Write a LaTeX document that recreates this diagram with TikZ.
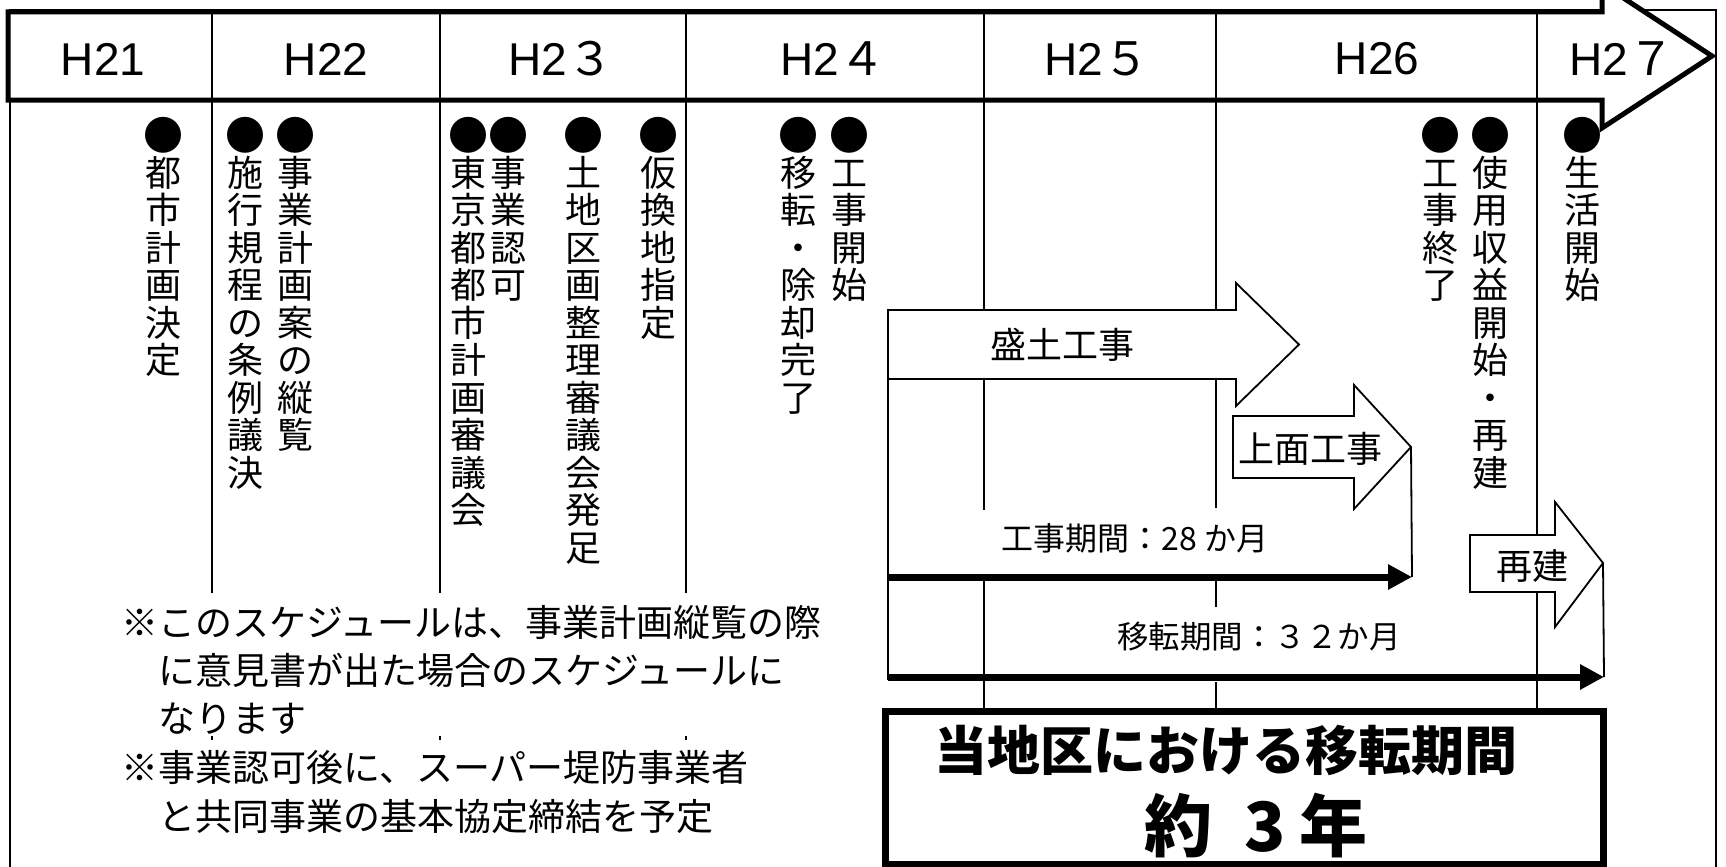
\documentclass[tikz,border=0pt]{standalone}
\usepackage{fontspec}
\setmainfont{Liberation Sans}
\newfontfamily\cjk{Noto Sans CJK JP}
\usetikzlibrary{arrows.meta}
\newcommand\vcolumn[3]{%
  \node[vdot] (#1d) at (#2,135) {●};
  \foreach \ch [count=\k from 1] in {#3}{%
    \node[vch] (#1\k) at (#2,135+37.5*\k) {\ch};}%
}
\begin{document}
\begin{tikzpicture}[x=1pt,y=-1pt,
  frame/.style={line width=2pt},
  band/.style={line width=5pt, line join=miter, fill=white},
  divider/.style={line width=1.8pt},
  blockarrow/.style={line width=1.8pt, fill=white, line join=miter},
  bracket/.style={line width=1.8pt},
  period/.style={line width=7pt, -{Triangle[length=24pt,width=24pt]}},
  vch/.style={font=\cjk\fontsize{36}{36}\selectfont, inner sep=0pt, text height=31.7pt, text depth=4.3pt},
  vdot/.style={font=\cjk\fontsize{40}{40}\selectfont, inner sep=0pt, text height=35.2pt, text depth=4.8pt},
  year/.style={font=\fontsize{46}{46}\selectfont, inner sep=0pt},
  arrowtext/.style={font=\cjk\fontsize{36}{36}\selectfont, inner sep=0pt},
  periodtext/.style={font=\cjk\fontsize{32}{32}\selectfont, inner sep=0pt},
  note/.style={font=\cjk\fontsize{37}{37}\selectfont, inner sep=0pt, anchor=west, text height=32.6pt, text depth=4.4pt},
  summary/.style={font=\cjk\bfseries\fontsize{53}{53}\selectfont, inner sep=0pt},
  ]
\useasboundingbox (0,0) rectangle (1726,867);
% outer frame
\draw[frame] (10,10) rectangle (1716,890);
% header band arrow
\draw[band] (8,12) -- (1602,12) -- (1602,-16) -- (1712,56) -- (1602,128) -- (1602,100) -- (8,100) -- cycle;
% dividers
\foreach \x in {212,440,686} {
  \draw[divider] (\x,12) -- (\x,593);
  \draw[divider] (\x,736) -- (\x,740);
}
\draw[divider] (984,12) -- (984,310) (984,379) -- (984,510) (984,580) -- (984,710);
\draw[divider] (1216,12) -- (1216,310) (1216,379) -- (1216,508) (1216,580) -- (1216,607) (1216,682) -- (1216,710);
\draw[divider] (1537,12) -- (1537,535) (1537,592) -- (1537,710);
% year labels
\node[year] (y21) at (103,59) {H21};
\node[year] (y22) at (326,59) {H22};
\node[year] (y23) at (561,59) {H2{\cjk ３}};
\node[year] (y24) at (833,59) {H2{\cjk ４}};
\node[year] (y25) at (1097,59) {H2{\cjk ５}};
\node[year] (y26) at (1377,59) {H26};
\node[year] (y27) at (1622,59) {H2{\cjk ７}};
% vertical event columns
\vcolumn{a}{163}{都,市,計,画,決,定}
\vcolumn{b}{245}{施,行,規,程,の,条,例,議,決}
\vcolumn{c}{295}{事,業,計,画,案,の,縦,覧}
\vcolumn{d}{468}{東,京,都,都,市,計,画,審,議,会}
\vcolumn{e}{508}{事,業,認,可}
\vcolumn{f}{583}{土,地,区,画,整,理,審,議,会,発,足}
\vcolumn{g}{658}{仮,換,地,指,定}
\vcolumn{h}{798}{移,転,・,除,却,完,了}
\vcolumn{i}{849}{工,事,開,始}
\vcolumn{j}{1440}{工,事,終,了}
\vcolumn{k}{1490}{使,用,収,益,開,始,・,再,建}
\vcolumn{l}{1582}{生,活,開,始}
% block arrows
\draw[blockarrow] (888,310) -- (1236,310) -- (1236,283) -- (1299,344.5) -- (1236,406) -- (1236,379) -- (888,379) -- cycle;
\node[arrowtext] (morido) at (1062,345) {盛土工事};
\draw[blockarrow] (1233,416) -- (1354,416) -- (1354,385) -- (1411,447) -- (1354,509) -- (1354,478) -- (1233,478) -- cycle;
\node[arrowtext] (jomen) at (1310,449) {上面工事};
\draw[blockarrow] (1470,535) -- (1555,535) -- (1555,502) -- (1603,563) -- (1555,627) -- (1555,592) -- (1470,592) -- cycle;
\node[arrowtext] (saiken) at (1532,566) {再建};
% brackets and period arrows
\coordinate (bTop) at (888,379);
\coordinate (bBot) at (888,680);
\coordinate (kL) at (888,577);
\coordinate (kR) at (1412,577);
\coordinate (iL) at (888,677);
\coordinate (iR) at (1604,677);
\coordinate (jTip) at (1411,447);
\coordinate (sTip) at (1603,563);
\draw[bracket] (bTop) -- (bBot);
\draw[bracket] (jTip) -- (kR);
\draw[bracket] (sTip) -- (iR);
\draw[period] (kL) -- (kR);
\draw[period] (iL) -- (iR);
\node[periodtext] (kLabel) at (1135,538) {工事期間：28 か月};
\node[periodtext, font=\cjk\fontsize{31.5}{31.5}\selectfont] (iLabel) at (1259,637) {移転期間：３２か月};
% summary box
\draw[line width=7pt, fill=white] (885,711) rectangle (1603,864);
\node[summary] (sum1) at (1226,750) {当地区における移転期間};
\node[font=\cjk\bfseries\fontsize{68}{68}\selectfont, inner sep=0pt] (sum2) at (1256,826) {約\hspace{32pt}3\hspace{13pt}年};
% notes
\node[note] (n1) at (121,622) {※このスケジュールは、事業計画縦覧の際};
\node[note] (n2) at (158,670) {に意見書が出た場合のスケジュールに};
\node[note] (n3) at (158,718) {なります};
\node[note] (n4) at (121,767) {※事業認可後に、スーパー堤防事業者};
\node[note] (n5) at (158,816) {と共同事業の基本協定締結を予定};
\end{tikzpicture}
\end{document}
